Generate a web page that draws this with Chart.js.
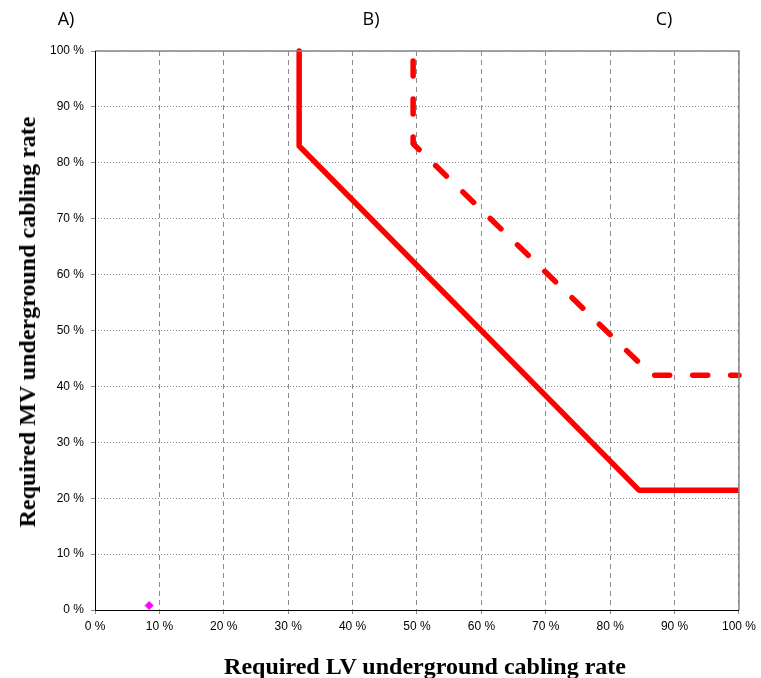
<!DOCTYPE html>
<html>
<head>
<meta charset="utf-8">
<script src="https://cdn.jsdelivr.net/npm/chart.js@4/dist/chart.umd.min.js"></script>
<style>
  html, body { margin: 0; padding: 0; background: #fff; }
  #wrap { position: relative; width: 761px; height: 678px; overflow: hidden; }
  canvas { position: absolute; left: 0; top: 0; }
  .lbl { position: absolute; top: 6px; line-height: 24px; font-family: "Open Sans", "Liberation Sans", sans-serif; font-size: 18px; color: #000; transform: translateX(-50%); }
  .ttl { position: absolute; white-space: nowrap; font-family: "Liberation Serif", "Times New Roman", serif; font-weight: bold; font-size: 24px; line-height: 24px; color: #000; }
  #xt { left: 425px; top: 654px; transform: translateX(-50%); }
  #yt { left: 27px; top: 322px; transform: translate(-50%, -50%) rotate(-90deg); }
</style>
</head>
<body>
<div id="wrap">
  <canvas id="c" width="761" height="678"></canvas>
  <div class="lbl" style="left:66px">A)</div>
  <div class="lbl" style="left:371px">B)</div>
  <div class="lbl" style="left:664px">C)</div>
  <div class="ttl" id="xt"></div>
  <div class="ttl" id="yt"></div>
</div>
<script>
// Data (percent)
const solidX = [31.7, 31.7, 84.5, 100];
const solidY = [100, 83.0, 21.4, 21.4];
const dashedX = [49.4, 49.4, 86.5, 100];
const dashedY = [98.2, 83.4, 42.0, 42.0];
const pointX = [8.4];
const pointY = [0.8];
const xTicks = [0, 10, 20, 30, 40, 50, 60, 70, 80, 90, 100];
const yTicks = [0, 10, 20, 30, 40, 50, 60, 70, 80, 90, 100];
const xTitle = 'Required LV underground cabling rate';
const yTitle = 'Required MV underground cabling rate';

document.getElementById('xt').textContent = xTitle;
document.getElementById('yt').textContent = yTitle;

const toPts = (xs, ys) => xs.map((x, i) => ({x: x, y: ys[i]}));

const frame = {
  id: 'frame',
  afterDatasetsDraw(chart) {
    const {ctx, chartArea: a} = chart;
    ctx.save();
    ctx.strokeStyle = '#888888';
    ctx.lineWidth = 1.5;
    ctx.beginPath();
    ctx.moveTo(a.left, a.top);
    ctx.lineTo(a.right, a.top);
    ctx.lineTo(a.right, a.bottom);
    ctx.stroke();
    ctx.strokeStyle = '#000';
    ctx.lineWidth = 1;
    ctx.beginPath();
    ctx.moveTo(a.left + 0.5, a.top);
    ctx.lineTo(a.left + 0.5, a.bottom + 0.5);
    ctx.lineTo(a.right, a.bottom + 0.5);
    ctx.stroke();
    ctx.restore();
  }
};

new Chart(document.getElementById('c'), {
  type: 'scatter',
  data: {
    datasets: [
      {
        data: toPts(solidX, solidY),
        showLine: true,
        borderColor: '#FF0000',
        borderWidth: 5.5,
        pointRadius: 0,
        borderCapStyle: 'butt',
        borderJoinStyle: 'round',
        fill: false,
        tension: 0,
        clip: 4
      },
      {
        data: toPts(dashedX, dashedY),
        showLine: true,
        borderColor: '#FF0000',
        borderWidth: 5.5,
        borderDash: [15, 23],
        borderCapStyle: 'round',
        borderJoinStyle: 'round',
        pointRadius: 0,
        fill: false,
        tension: 0,
        clip: 4
      },
      {
        data: toPts(pointX, pointY),
        showLine: false,
        pointStyle: 'rectRot',
        pointRadius: 4,
        backgroundColor: '#FF00FF',
        borderColor: '#FF00FF',
        borderWidth: 1
      }
    ]
  },
  options: {
    responsive: false,
    animation: false,
    devicePixelRatio: 1,
    layout: { padding: { top: 51, right: 22, left: 0, bottom: 0 } },
    plugins: { legend: { display: false }, tooltip: { enabled: false } },
    scales: {
      x: {
        type: 'linear',
        min: 0, max: 100,
        afterBuildTicks: s => { s.ticks = xTicks.map(v => ({value: v})); },
        afterFit: s => { s.height = 68; },
        ticks: {
          callback: v => v + ' %',
          color: '#000',
          font: { family: 'Liberation Sans, Arial, sans-serif', size: 12 },
          padding: 5,
          maxRotation: 0
        },
        grid: {
          color: '#8c8c8c',
          lineWidth: 1,
          tickLength: 4,
          drawTicks: true
        },
        border: { display: false, dash: [5, 4] },
        title: { display: false }
      },
      y: {
        type: 'linear',
        min: 0, max: 100,
        afterBuildTicks: s => { s.ticks = yTicks.map(v => ({value: v})); },
        afterFit: s => { s.width = 95; },
        ticks: {
          callback: v => v + ' %',
          color: '#000',
          font: { family: 'Liberation Sans, Arial, sans-serif', size: 12 },
          padding: 7
        },
        grid: {
          color: '#8c8c8c',
          lineWidth: 1,
          tickLength: 4
        },
        border: { display: false, dash: [1, 2] },
        title: { display: false }
      }
    }
  },
  plugins: [frame]
});
</script>
</body>
</html>
